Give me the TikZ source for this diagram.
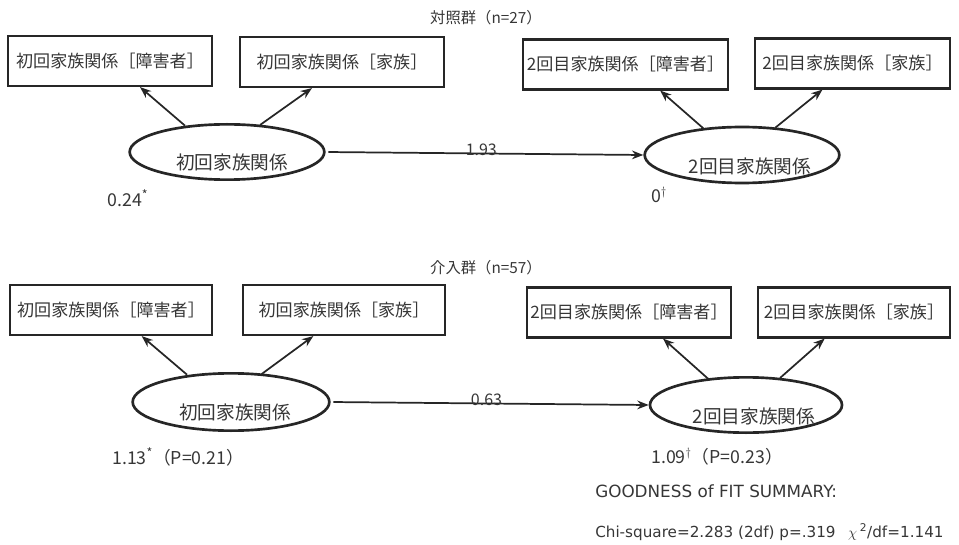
\documentclass[tikz,border=0pt]{standalone}
\usepackage{fontspec}
\setmainfont{Noto Sans CJK JP}
\newfontfamily\latinwide{DejaVu Sans}
\usetikzlibrary{arrows.meta,shapes.geometric}
\definecolor{ink}{HTML}{262626}
\definecolor{txt}{HTML}{363636}
\tikzset{
  every node/.style={text=txt},
  obsbox/.style={draw=ink, line width=1.6pt, rectangle, minimum height=37.5pt, inner sep=0pt, font=\fontsize{12.8}{14}\selectfont},
  latent/.style={draw=ink, line width=2pt, ellipse, inner sep=0pt, minimum width=146pt, minimum height=41.5pt},
  lattext/.style={font=\fontsize{14}{16}\selectfont},
  load/.style={draw=ink, line width=1.3pt, -{Stealth[length=8.5pt,width=6.5pt]}},
  path/.style={draw=ink, line width=1.3pt, -{Stealth[length=8.5pt,width=6.5pt]}, shorten <=2pt},
  coef/.style={font=\fontsize{12}{14}\selectfont, inner sep=0pt, anchor=south},
  varlab/.style={font=\fontsize{13.3}{15}\selectfont, inner sep=0pt},
  grouptitle/.style={font=\fontsize{11.5}{14}\selectfont, inner sep=0pt},
  fitline/.style={font=\latinwide\fontsize{11.4}{13}\selectfont, inner sep=0pt, anchor=west},
}
\begin{document}
\begin{tikzpicture}[x=0.75pt, y=-0.75pt]
\useasboundingbox (0,0) rectangle (959,545);

% ---------- control group ----------
\node[grouptitle] (t1) at (486,18) {対照群（n=27）};

\node[obsbox, minimum width=153pt] (b1) at (110,61) {初回家族関係［障害者］};
\node[obsbox, minimum width=153pt] (b2) at (342,62) {初回家族関係［家族］};
\node[obsbox, minimum width=153.5pt] (b3) at (625.5,64.5) {2回目家族関係［障害者］};
\node[obsbox, minimum width=146pt] (b4) at (852.5,63.5) {2回目家族関係［家族］};

\node[latent] (e1) at (227,152) {};
\node[lattext] (e1t) at (232,162) {初回家族関係};
\node[latent, minimum height=42pt] (e2) at (742,155) {};
\node[lattext] (e2t) at (750,166) {2回目家族関係};

\draw[load] ([xshift=-31.5pt,yshift=-2pt]e1.north) -- ([xshift=22.5pt]b1.south);
\draw[load] ([xshift=24.75pt,yshift=-1.5pt]e1.north) -- ([xshift=-22.5pt]b2.south);
\draw[load] ([xshift=-29pt,yshift=-2pt]e2.north) -- ([xshift=26pt]b3.south);
\draw[load] ([xshift=25pt,yshift=-1.5pt]e2.north) -- ([xshift=-22.5pt]b4.south);

\draw[path] (e1.east) -- (e2.west) node[coef, pos=0.49, yshift=-2pt] (c1) {1.93};

\node[varlab] (v1) at (128,198) {0.24\textsuperscript{*}};
\node[varlab] (v2) at (659,195) {0$^{\dagger}$};

% ---------- intervention group ----------
\node[grouptitle] (t2) at (486,268) {介入群（n=57）};

\node[obsbox, minimum width=151.5pt] (b5) at (111,310) {初回家族関係［障害者］};
\node[obsbox, minimum width=151.5pt] (b6) at (344,310) {初回家族関係［家族］};
\node[obsbox, minimum width=153pt] (b7) at (629,312.5) {2回目家族関係［障害者］};
\node[obsbox, minimum width=144pt] (b8) at (854,312.5) {2回目家族関係［家族］};

\node[latent, minimum width=147.5pt, minimum height=43pt] (e3) at (231,402) {};
\node[lattext] (e3t) at (235,412) {初回家族関係};
\node[latent, minimum width=144pt] (e4) at (746,405) {};
\node[lattext] (e4t) at (754,416) {2回目家族関係};

\draw[load] ([xshift=-33pt,yshift=-2pt]e3.north) -- ([xshift=23pt]b5.south);
\draw[load] ([xshift=23pt,yshift=-1.5pt]e3.north) -- ([xshift=-23pt]b6.south);
\draw[load] ([xshift=-28.5pt,yshift=-2pt]e4.north) -- ([xshift=25.5pt]b7.south);
\draw[load] ([xshift=25.5pt,yshift=-1.5pt]e4.north) -- ([xshift=-22pt]b8.south);

\draw[path] (e3.east) -- (e4.west) node[coef, pos=0.49, yshift=-2pt] (c2) {0.63};

\node[varlab, anchor=west] (v3) at (112,457) {1.13\textsuperscript{*}（P=0.21）};
\node[varlab, anchor=west] (v4) at (651,457) {1.09$^{\dagger}$（P=0.23）};

\node[fitline, font=\latinwide\fontsize{12.6}{14}\selectfont] (g1) at (595,491) {GOODNESS of FIT SUMMARY:};
\node[fitline] (g2) at (595,532) {Chi-square=2.283 (2df) p=.319\enspace\ $\chi$\,\textsuperscript{2}/df=1.141};
\end{tikzpicture}
\end{document}
